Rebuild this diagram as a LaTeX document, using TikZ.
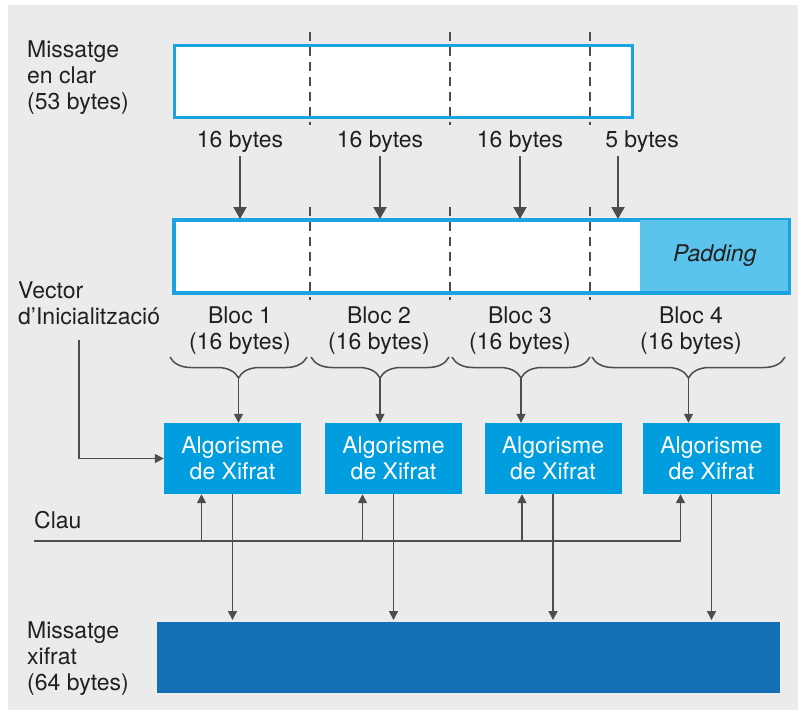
\documentclass[tikz,border=0pt]{standalone}
\usepackage{fontspec}
\setmainfont{TeX Gyre Heros}
\usetikzlibrary{arrows.meta,calc,decorations.pathreplacing}
\definecolor{BgClr}{HTML}{EBEBEB}
\definecolor{BoxClr}{HTML}{1AA3E0}
\definecolor{PadClr}{HTML}{5BC4EC}
\definecolor{AlgClr}{HTML}{009EDF}
\definecolor{OutClr}{HTML}{1470B4}
\definecolor{LineClr}{HTML}{4D4D4D}
\definecolor{TextClr}{HTML}{231F20}

\begin{document}
\begin{tikzpicture}[x=1pt,y=-1pt,
  font=\fontsize{23}{26}\selectfont,text=TextClr,
  msgbox/.style={draw=BoxClr,line width=2.5pt,fill=white,anchor=north west,inner sep=0pt},
  algbox/.style={fill=AlgClr,text=white,align=center,minimum width=137pt,minimum height=71pt,inner sep=0pt},
  lbl/.style={align=left,anchor=west,inner sep=0pt},
  sep/.style={LineClr,line width=2.2pt,dash pattern=on 9pt off 6pt},
  bigarr/.style={LineClr,line width=2pt,-{Triangle[width=13pt,length=12pt]}},
  arr/.style={LineClr,line width=1.6pt,-{Triangle[width=9pt,length=9pt]}},
  brc/.style={LineClr,line width=1.5pt,decorate,decoration={brace,mirror,amplitude=21pt}}]
\useasboundingbox (0,0) rectangle (798,716);
\fill[BgClr] (8,5) rectangle (798,710);

\node[lbl] (clr) at (27,78) {Missatge\\en clar\\(53 bytes)};
\node[msgbox,minimum width=458pt,minimum height=72pt] (clar) at (173,44) {};

\node[msgbox,minimum width=614pt,minimum height=72pt] (blocs) at (173,219) {};
\node[fill=PadClr,anchor=north east,minimum width=149pt,minimum height=72pt,inner sep=0pt,
  font=\fontsize{23}{26}\selectfont\itshape] (pad) at (blocs.north east) {Padding};
\draw[BoxClr,line width=2.5pt] (blocs.north west) rectangle (blocs.south east);

\foreach \x in {310,450,590}{
  \draw[sep] (\x,32) -- (\x,125);
  \draw[sep] (\x,207) -- (\x,300);
}

\node (in1) at (240,142) {16 bytes};
\node (in2) at (380,142) {16 bytes};
\node (in3) at (520,142) {16 bytes};
\node (in4) at (642,142) {5 bytes};
\draw[bigarr] (in1.south) -- (in1.south |- blocs.north);
\draw[bigarr] (in2.south) -- (in2.south |- blocs.north);
\draw[bigarr] (in3.south) -- (in3.south |- blocs.north);
\draw[bigarr] ([xshift=-24pt]in4.south) -- ([xshift=-24pt]in4.south |- blocs.north);

\node[align=center] (bl1) at (240,331) {Bloc 1\\(16 bytes)};
\node[align=center] (bl2) at (379,331) {Bloc 2\\(16 bytes)};
\node[align=center] (bl3) at (520,331) {Bloc 3\\(16 bytes)};
\node[align=center] (bl4) at (691,331) {Bloc 4\\(16 bytes)};
\foreach \a/\b/\i in {170/307/1,311/449/2,452/590/3,592/785/4}{
  \draw[brc] (\a,357) -- (\b,357);
  \coordinate (tip\i) at ({(\a+\b)/2},378);
}

\node[algbox] (alg1) at (232.5,458.5) {Algorisme\\de Xifrat};
\node[algbox] (alg2) at (393.5,458.5) {Algorisme\\de Xifrat};
\node[algbox] (alg3) at (553,458.5) {Algorisme\\de Xifrat};
\node[algbox] (alg4) at (711.5,458.5) {Algorisme\\de Xifrat};
\foreach \i in {1,...,4}
  \draw[arr] (tip\i) -- (tip\i |- alg\i.north);

\node[lbl] (vec) at (18,303) {Vector\\d’Inicialització};
\coordinate (v0) at (79,340);
\draw[arr] (v0) |- (alg1.west);

\node[lbl] (clau) at (34,520) {Clau};
\coordinate (k0) at (34,541);
\draw[LineClr,line width=1.6pt] (k0) -- ([xshift=-31pt]alg4.south |- k0);
\foreach \i in {1,...,4}
  \draw[arr] ([xshift=-31pt]alg\i.south |- k0) -- ([xshift=-31pt]alg\i.south);

\node[fill=OutClr,anchor=north west,minimum width=623pt,minimum height=71pt,inner sep=0pt] (out) at (157,622) {};
\node[lbl] (xif) at (27,659) {Missatge\\xifrat\\(64 bytes)};
\foreach \i in {1,...,4}
  \draw[arr,shorten >=2pt] (alg\i.south) -- (alg\i.south |- out.north);
\end{tikzpicture}
\end{document}
